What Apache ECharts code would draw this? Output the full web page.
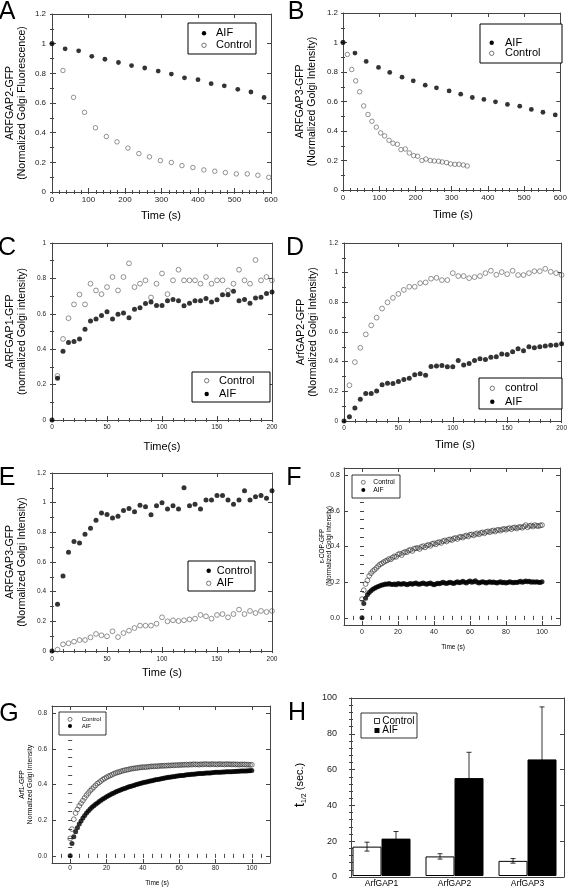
<!DOCTYPE html>
<html><head><meta charset="utf-8">
<script src="https://cdn.jsdelivr.net/npm/echarts@6/dist/echarts.min.js"></script>
<style>html,body{margin:0;padding:0;background:#fff}#c{width:570px;height:888px}</style>
</head><body><div id="c"></div>
<script>
// ---------- DATA ----------
// Panel A (ARFGAP2-GFP decay)
const aifA_t = [0,36,73,109,145,182,218,254,291,327,363,400,436,472,509,545,581];
const aifA_v = [1.0,0.965,0.952,0.915,0.895,0.873,0.852,0.836,0.815,0.795,0.77,0.757,0.73,0.716,0.692,0.674,0.637];
const ctlA_t = [0,30,59,89,119,149,178,208,238,267,297,327,356,386,416,446,475,505,535,564,594];
const ctlA_v = [1.0,0.819,0.638,0.537,0.433,0.374,0.338,0.296,0.259,0.237,0.212,0.199,0.178,0.165,0.149,0.14,0.131,0.122,0.122,0.113,0.099];
// Panel B (ARFGAP3-GFP decay)
const aifB_t = [0,33,64,98,129,163,194,227,258,293,325,357,389,421,454,488,520,552,586];
const aifB_v = [1.0,0.928,0.872,0.831,0.797,0.765,0.74,0.711,0.693,0.672,0.65,0.627,0.614,0.598,0.58,0.568,0.546,0.527,0.509];
const ctlB_t = [0,12,24,35,46,57,69,80,92,104,115,127,138,150,160,172,183,195,206,218,229,241,252,264,274,286,297,309,320,332,343];
const ctlB_v = [1.0,0.919,0.817,0.74,0.666,0.57,0.512,0.466,0.426,0.387,0.367,0.337,0.317,0.31,0.274,0.278,0.251,0.233,0.229,0.2,0.21,0.2,0.197,0.195,0.19,0.186,0.177,0.174,0.174,0.17,0.163];
// Times for C, D, E
const tCDE = [0,5,10,15,20,25,30,35,40,45,50,55,60,65,70,75,80,85,90,95,100,105,110,115,120,125,130,135,140,145,150,155,160,165,170,175,180,185,190,195,200];
const tCDE5 = [5,10,15,20,25,30,35,40,45,50,55,60,65,70,75,80,85,90,95,100,105,110,115,120,125,130,135,140,145,150,155,160,165,170,175,180,185,190,195,200];
// Panel C (ARFGAP1-GFP recovery)
const ctlC = [0.249,0.458,0.575,0.653,0.709,0.653,0.77,0.732,0.711,0.751,0.808,0.732,0.808,0.885,0.751,0.77,0.789,0.692,0.77,0.828,0.711,0.789,0.849,0.789,0.789,0.789,0.77,0.808,0.77,0.789,0.789,0.732,0.77,0.849,0.789,0.77,0.904,0.789,0.808,0.789];
const aifC = [0,0.236,0.389,0.438,0.443,0.458,0.513,0.56,0.57,0.591,0.611,0.57,0.598,0.604,0.577,0.626,0.634,0.658,0.666,0.647,0.647,0.674,0.681,0.674,0.645,0.66,0.674,0.674,0.687,0.666,0.679,0.708,0.708,0.728,0.674,0.681,0.66,0.689,0.694,0.715,0.723];
// Panel D (ArfGAP2-GFP recovery)
const ctlD = [0.241,0.397,0.494,0.584,0.645,0.697,0.758,0.8,0.83,0.857,0.884,0.905,0.905,0.929,0.934,0.959,0.965,0.95,0.95,0.997,0.977,0.977,0.963,0.97,0.977,0.997,1.013,0.986,1.004,0.99,1.013,0.984,0.984,0.997,1.01,1.01,1.026,1.006,0.997,0.984];
const aifD = [0,0.029,0.088,0.147,0.185,0.185,0.203,0.244,0.255,0.253,0.266,0.28,0.289,0.311,0.318,0.309,0.368,0.37,0.374,0.365,0.365,0.408,0.377,0.388,0.408,0.42,0.415,0.429,0.433,0.451,0.449,0.467,0.487,0.474,0.501,0.494,0.501,0.505,0.51,0.512,0.521];
// Panel E (ARFGAP3-GFP recovery)
const ctlE = [0,0.315,0.506,0.665,0.739,0.728,0.787,0.827,0.881,0.93,0.921,0.897,0.908,0.948,0.96,0.939,0.982,0.973,0.919,0.98,1.0,0.957,0.98,0.957,1.101,0.98,0.989,0.957,1.018,1.018,1.049,1.049,1.018,0.989,1.018,1.081,1.018,1.04,1.049,1.029,1.081];
const aifE = [0.009,0.045,0.052,0.063,0.074,0.074,0.092,0.115,0.106,0.099,0.133,0.094,0.121,0.137,0.155,0.171,0.171,0.171,0.184,0.227,0.2,0.207,0.202,0.207,0.213,0.218,0.243,0.234,0.218,0.243,0.249,0.227,0.249,0.279,0.249,0.27,0.256,0.27,0.263,0.27];
// Times for F, G
const tFG = [0,1,2,3,4,5,6,7,8,9,10,11,12,13,14,15,16,17,18,19,20,21,22,23,24,25,26,27,28,29,30,31,32,33,34,35,36,37,38,39,40,41,42,43,44,45,46,47,48,49,50,51,52,53,54,55,56,57,58,59,60,61,62,63,64,65,66,67,68,69,70,71,72,73,74,75,76,77,78,79,80,81,82,83,84,85,86,87,88,89,90,91,92,93,94,95,96,97,98,99,100];
// Panel F (epsilon-COP-GFP)
const ctlF = [0.105,0.155,0.19,0.21,0.235,0.25,0.262,0.27,0.28,0.29,0.3,0.305,0.312,0.318,0.322,0.33,0.328,0.338,0.345,0.342,0.355,0.36,0.352,0.365,0.37,0.368,0.378,0.382,0.375,0.388,0.39,0.392,0.386,0.398,0.402,0.395,0.405,0.41,0.404,0.415,0.418,0.412,0.422,0.425,0.42,0.43,0.434,0.428,0.438,0.44,0.436,0.445,0.448,0.442,0.452,0.455,0.45,0.458,0.462,0.456,0.466,0.468,0.462,0.47,0.474,0.468,0.476,0.479,0.474,0.482,0.485,0.48,0.487,0.49,0.484,0.492,0.494,0.489,0.496,0.499,0.494,0.5,0.503,0.497,0.505,0.507,0.501,0.508,0.51,0.505,0.512,0.52,0.508,0.515,0.518,0.512,0.52,0.516,0.514,0.518,0.52];
const aifF = [0,0.08,0.11,0.13,0.142,0.152,0.16,0.166,0.172,0.176,0.18,0.184,0.186,0.19,0.188,0.192,0.189,0.187,0.19,0.186,0.192,0.19,0.188,0.193,0.19,0.186,0.19,0.193,0.189,0.192,0.195,0.19,0.188,0.192,0.195,0.191,0.188,0.192,0.196,0.19,0.186,0.19,0.194,0.191,0.196,0.2,0.195,0.192,0.197,0.2,0.196,0.193,0.198,0.202,0.197,0.2,0.205,0.2,0.196,0.202,0.206,0.2,0.203,0.208,0.2,0.196,0.2,0.203,0.199,0.196,0.2,0.202,0.198,0.201,0.198,0.196,0.2,0.202,0.197,0.199,0.195,0.198,0.202,0.2,0.197,0.2,0.198,0.201,0.205,0.2,0.203,0.207,0.202,0.205,0.2,0.203,0.199,0.202,0.2,0.198,0.203];
// Panel G (Arf1-GFP)
const ctlG = [0.098,0.15,0.205,0.24,0.26,0.28,0.295,0.31,0.325,0.34,0.352,0.365,0.375,0.385,0.395,0.405,0.412,0.42,0.428,0.434,0.44,0.446,0.45,0.455,0.46,0.464,0.468,0.47,0.474,0.477,0.48,0.482,0.484,0.487,0.489,0.49,0.492,0.493,0.495,0.496,0.497,0.498,0.497,0.5,0.5,0.502,0.501,0.503,0.502,0.504,0.505,0.504,0.506,0.505,0.507,0.506,0.508,0.507,0.509,0.508,0.51,0.509,0.511,0.51,0.512,0.51,0.513,0.511,0.514,0.512,0.513,0.511,0.514,0.512,0.515,0.513,0.514,0.512,0.515,0.513,0.514,0.512,0.515,0.513,0.514,0.512,0.515,0.513,0.514,0.512,0.514,0.512,0.513,0.511,0.513,0.512,0.513,0.511,0.512,0.51,0.511];
const aifG = [0,0.07,0.107,0.135,0.158,0.178,0.196,0.212,0.226,0.24,0.252,0.262,0.272,0.281,0.289,0.297,0.305,0.312,0.319,0.325,0.331,0.337,0.342,0.348,0.353,0.358,0.362,0.367,0.371,0.375,0.378,0.382,0.386,0.389,0.392,0.395,0.398,0.401,0.404,0.407,0.41,0.412,0.414,0.417,0.419,0.421,0.424,0.426,0.428,0.43,0.432,0.434,0.436,0.438,0.44,0.441,0.443,0.444,0.446,0.447,0.449,0.45,0.451,0.452,0.454,0.455,0.456,0.457,0.458,0.459,0.46,0.461,0.462,0.462,0.463,0.464,0.465,0.465,0.466,0.467,0.468,0.468,0.469,0.469,0.47,0.47,0.471,0.471,0.472,0.472,0.473,0.473,0.474,0.474,0.475,0.475,0.476,0.476,0.477,0.477,0.478];
// Panel H (t1/2 bars)
const catsH = ['ArfGAP1','ArfGAP2','ArfGAP3'];
const ctlH = [16.5,11,8.5];
const ctlH_err = [2.5,1.5,1.3];
const aifH = [21,55,65.5];
const aifH_err = [4,14.5,29.5];
// Tick labels
const ticks600 = [0,100,200,300,400,500,600];
const ticks200 = [0,50,100,150,200];
const ticks100 = [0,20,40,60,80,100];
const ticksY12 = [0,0.2,0.4,0.6,0.8,1,1.2];
const ticksY10 = [0,0.2,0.4,0.6,0.8,1];
const ticksY08 = [0,0.2,0.4,0.6,0.8];
const ticksH = [0,20,40,60,80,100];

// ---------- BUILD ----------
const FONT = '"Liberation Sans", Arial, Helvetica, sans-serif';
const AX = '#444';
const grids = [], xAxes = [], yAxes = [], series = [], graphics = [];

function minors(min, max, step){
  const out = [];
  const s = Math.ceil(min/step - 1e-9);
  for (let k = s; k*step <= max + 1e-9; k++) out.push(Math.round(k*step*1e6)/1e6);
  return out;
}
function axisMajor(gi, pos, range, ticks, label){
  const a = {type:'value', gridIndex:gi, position:pos, min:range[0], max:range[1],
    splitLine:{show:false},
    axisLine:{show:true, onZero:false, lineStyle:{color:AX, width:1}},
    axisTick:{show:true, inside:true, length:4, customValues:ticks, lineStyle:{color:AX, width:1}},
    axisLabel:{show:false}};
  if (label) a.axisLabel = Object.assign({show:true, customValues:ticks, color:'#222', fontFamily:FONT}, label);
  return a;
}
function axisMinor(gi, pos, range, ticks){
  return {type:'value', gridIndex:gi, position:pos, min:range[0], max:range[1],
    splitLine:{show:false}, axisLine:{show:false},
    axisTick:{show:true, inside:true, length:2, customValues:ticks, lineStyle:{color:AX, width:1}},
    axisLabel:{show:false}};
}
function addPanel(p){
  const gi = grids.length;
  grids.push({left:p.l, top:p.t, width:p.w, height:p.h});
  const xi = xAxes.length;
  const xl = {fontSize:p.lf, margin:p.lxm};
  const yl = {fontSize:p.lf, margin:p.lym};
  if (p.yfmt) yl.formatter = p.yfmt;
  xAxes.push(axisMajor(gi,'bottom',p.x,p.xt,xl));
  xAxes.push(axisMinor(gi,'bottom',p.x,minors(p.x[0],p.x[1],p.xm)));
  xAxes.push(axisMajor(gi,'top',p.x,p.xt,null));
  xAxes.push(axisMinor(gi,'top',p.x,minors(p.x[0],p.x[1],p.xm)));
  const yi = yAxes.length;
  yAxes.push(axisMajor(gi,'left',p.y,p.yt,yl));
  yAxes.push(axisMinor(gi,'left',p.y,minors(p.y[0],p.y[1],p.ym)));
  yAxes.push(axisMajor(gi,'right',p.y,p.yt,null));
  yAxes.push(axisMinor(gi,'right',p.y,minors(p.y[0],p.y[1],p.ym)));
  return {xi, yi};
}
function pairs(t, v){ return v.map((y,i)=>[t[i], y]); }
function filled(ax, t, v, size){
  series.push({type:'scatter', xAxisIndex:ax.xi, yAxisIndex:ax.yi, data:pairs(t,v), symbol:'circle',
    symbolSize:size, itemStyle:{color:'#000'}, silent:true, z:3});
}
function open(ax, t, v, size, col){
  series.push({type:'scatter', xAxisIndex:ax.xi, yAxisIndex:ax.yi, data:pairs(t,v), symbol:'circle',
    symbolSize:size, itemStyle:{color:'rgba(0,0,0,0)', borderColor:col||'#555', borderWidth:0.8}, silent:true, z:2});
}
function txt(x, y, text, size, o){
  o = o || {};
  graphics.push({type:'text', x:x, y:y, rotation:o.rot||0, silent:true, z:10,
    style:{text:text, fontSize:size, fontFamily:FONT, fill:'#000', fontWeight:o.bold?'bold':'normal',
      align:o.align||'center', verticalAlign:o.va||'middle', lineHeight:o.lh||size*1.15, rich:o.rich}});
}
function legend(box, items, sx, tx, fs, r, lw){
  graphics.push({type:'rect', shape:{x:box[0], y:box[1], width:box[2]-box[0], height:box[3]-box[1]},
    style:{fill:'#fff', stroke:'#000', lineWidth:lw}, silent:true, z:9});
  items.forEach(it=>{
    if (it.k==='f') graphics.push({type:'circle', shape:{cx:sx, cy:it.y, r:r}, style:{fill:'#000'}, silent:true, z:10});
    else if (it.k==='o') graphics.push({type:'circle', shape:{cx:sx, cy:it.y, r:r}, style:{fill:'none', stroke:'#555', lineWidth:0.8}, silent:true, z:10});
    else if (it.k==='sq') graphics.push({type:'rect', shape:{x:sx-r, y:it.y-r, width:2*r, height:2*r}, style:{fill:'#fff', stroke:'#000', lineWidth:0.8}, silent:true, z:10});
    else if (it.k==='sf') graphics.push({type:'rect', shape:{x:sx-r, y:it.y-r, width:2*r, height:2*r}, style:{fill:'#000'}, silent:true, z:10});
    txt(tx, it.y, it.label, fs, {align:'left'});
  });
}
const f1 = v => v.toFixed(1);
const R90 = Math.PI/2;

// Panel A
const axA = addPanel({l:52,t:14,w:219,h:178, x:[0,600], y:[0,1.2], xt:ticks600, yt:ticksY12, xm:20, ym:0.1, lf:8, lxm:4, lym:6});
open(axA, ctlA_t, ctlA_v, 4.5);
filled(axA, aifA_t, aifA_v, 4.8);
legend([188,23,256,54], [{y:33.3,k:'f',label:'AIF'},{y:45.3,k:'o',label:'Control'}], 204, 216, 11, 2.2, 1);
txt(7, 12, 'A', 25, {align:'center'});
txt(16, 103, 'ARFGAP2-GFP\n(Normalized Golgi Fluorescence)', 10.5, {rot:R90, lh:12});
txt(161, 216, 'Time (s)', 11);

// Panel B
const axB = addPanel({l:343,t:13,w:220,h:177, x:[0,600], y:[0,1.2], xt:ticks600, yt:ticksY12, xm:20, ym:0.1, lf:8, lxm:4, lym:5});
open(axB, ctlB_t, ctlB_v, 4.5);
filled(axB, aifB_t, aifB_v, 4.8);
legend([480,24,562,63], [{y:42.7,k:'f',label:'AIF'},{y:53.3,k:'o',label:'Control'}], 491.7, 505, 11, 2.2, 1);
txt(296, 12, 'B', 25);
txt(306, 101.5, 'ARFGAP3-GFP\n(Normalized Golgi Intensity)', 10.5, {rot:R90, lh:12});
txt(453, 215, 'Time (s)', 11);

// Panel C
const axC = addPanel({l:52,t:243,w:220,h:177, x:[0,200], y:[0,1], xt:ticks200, yt:ticksY10, xm:10, ym:0.1, lf:6.5, lxm:4, lym:6});
open(axC, tCDE5, ctlC, 4.8);
filled(axC, tCDE, aifC, 5);
legend([192,372,270,402], [{y:380.7,k:'o',label:'Control'},{y:394,k:'f',label:'AIF'}], 206.7, 219, 11, 2.2, 1);
txt(7, 248, 'C', 25);
txt(16, 331.5, 'ARFGAP1-GFP\n(normalized Golgi intensity)', 10.5, {rot:R90, lh:12});
txt(162, 447, 'Time(s)', 11);

// Panel D
const axD = addPanel({l:344,t:243,w:220,h:178, x:[0,200], y:[0,1.2], xt:ticks200, yt:ticksY12, xm:10, ym:0.1, lf:6.5, lxm:4, lym:6});
open(axD, tCDE5, ctlD, 4.8);
filled(axD, tCDE, aifD, 5);
legend([479,378,562,409], [{y:388.3,k:'o',label:'control'},{y:401.7,k:'f',label:'AIF'}], 492.3, 505, 11, 2.2, 1);
txt(295, 248, 'D', 25);
txt(307, 332, 'ArfGAP2-GFP\n(Normalized Golgi Intensity)', 10.5, {rot:R90, lh:12});
txt(455, 445, 'Time (s)', 11);

// Panel E
const axE = addPanel({l:52,t:473,w:220,h:178, x:[0,200], y:[0,1.2], xt:ticks200, yt:ticksY12, xm:10, ym:0.1, lf:6.5, lxm:5, lym:6});
open(axE, tCDE5, aifE, 4.8);
filled(axE, tCDE, ctlE, 5);
legend([188,561,255,591], [{y:570.7,k:'f',label:'Control'},{y:583.3,k:'o',label:'AIF'}], 208.7, 216.7, 11, 2.2, 1);
txt(7, 478, 'E', 25);
txt(16, 562, 'ARFGAP3-GFP\n(Normalized Golgi Intensity)', 10.5, {rot:R90, lh:12});
txt(162, 673, 'Time (s)', 11);

// Panel F
const axF = addPanel({l:344,t:468,w:216,h:157, x:[-10,110], y:[-0.04,0.84], xt:ticks100, yt:ticksY08, xm:5, ym:0.05, lf:7, lxm:4, lym:4, yfmt:f1});
open(axF, tFG, ctlF, 4.8, '#333');
filled(axF, tFG, aifF, 5);
legend([352,475,400,498], [{y:482.3,k:'o',label:'Control'},{y:490,k:'f',label:'AIF'}], 363.3, 373.3, 6.7, 2, 0.8);
txt(294, 478, 'F', 25);
txt(326, 546, '\u03b5-COP-GFP\n(Normalized Golgi intensity)', 6.5, {rot:R90, lh:7});
txt(453, 647, 'Time (s)', 6.5);

// Panel G
const axG = addPanel({l:52,t:706,w:218,h:157, x:[-10,110], y:[-0.04,0.84], xt:ticks100, yt:ticksY08, xm:5, ym:0.05, lf:6.5, lxm:2, lym:5, yfmt:f1});
open(axG, tFG, ctlG, 4.8, '#333');
filled(axG, tFG, aifG, 5);
legend([59,712,106,735], [{y:719.3,k:'o',label:'Control'},{y:726,k:'f',label:'AIF'}], 70, 81.7, 6, 2, 0.8);
txt(9, 714, 'G', 25);
txt(26, 784.5, 'Arf1-GFP\nNormalized Golgi Intensity', 6.8, {rot:R90, lh:8.5});
txt(157, 883, 'Time (s)', 6.5);

// Panel H: frame grid
(function(){
  const gi = grids.length;
  grids.push({left:351, top:698, width:213, height:179});
  const frameX = pos => ({type:'value', gridIndex:gi, position:pos, min:0, max:1, splitLine:{show:false},
    axisLine:{show:true, onZero:false, lineStyle:{color:AX, width:1}}, axisTick:{show:false}, axisLabel:{show:false}});
  xAxes.push(frameX('bottom')); xAxes.push(frameX('top'));
  yAxes.push(axisMajor(gi,'left',[0,100],ticksH,{fontSize:9, margin:14}));
  yAxes.push(axisMinor(gi,'left',[0,100],minors(0,100,4)));
  yAxes.push(axisMajor(gi,'right',[0,100],ticksH,null));
  yAxes.push(axisMinor(gi,'right',[0,100],minors(0,100,4)));
  // bar grid
  const gb = grids.length;
  grids.push({left:345, top:698, width:219, height:179});
  const bx = xAxes.length;
  xAxes.push({type:'category', gridIndex:gb, data:catsH, position:'bottom', axisLine:{show:false}, axisTick:{show:false},
    axisLabel:{fontSize:8.5, fontFamily:FONT, color:'#000', margin:3}, splitLine:{show:false}});
  const by = yAxes.length;
  yAxes.push({type:'value', gridIndex:gb, min:0, max:100, show:false});
  series.push({type:'bar', xAxisIndex:bx, yAxisIndex:by, data:ctlH, barWidth:29, barGap:'0%',
    itemStyle:{color:'#fff', borderColor:'#000', borderWidth:1}, silent:true, z:2});
  series.push({type:'bar', xAxisIndex:bx, yAxisIndex:by, data:aifH, barWidth:29, barGap:'0%',
    itemStyle:{color:'#000', borderColor:'#000', borderWidth:1}, silent:true, z:2});
  const errData = [];
  ctlH.forEach((v,i)=>errData.push([i, v, ctlH_err[i], -1]));
  aifH.forEach((v,i)=>errData.push([i, v, aifH_err[i], 1]));
  series.push({type:'custom', xAxisIndex:bx, yAxisIndex:by, data:errData, silent:true, z:5,
    renderItem:function(params, api){
      const i = api.value(0), v = api.value(1), e = api.value(2), s = api.value(3);
      const c = api.coord([i, v]);
      const hi = api.coord([i, v+e]), lo = api.coord([i, v-e]);
      const x = c[0] + s*14.5;
      const st = {stroke:'#000', lineWidth:0.8};
      return {type:'group', children:[
        {type:'line', shape:{x1:x, y1:hi[1], x2:x, y2:lo[1]}, style:st},
        {type:'line', shape:{x1:x-2.5, y1:hi[1], x2:x+2.5, y2:hi[1]}, style:st},
        {type:'line', shape:{x1:x-2.5, y1:lo[1], x2:x+2.5, y2:lo[1]}, style:st}
      ]};
    }});
})();
legend([361,713,417,738], [{y:721,k:'sq',label:'Control'},{y:730.5,k:'sf',label:'AIF'}], 377, 382.3, 10, 2.5, 0.8);
txt(297, 713, 'H', 25);
txt(300, 785, '{t|t}{s|1/2} (sec.)', 11, {rot:R90, rich:{t:{fontSize:15, fontFamily:FONT, fill:'#000'}, s:{fontSize:7, fontFamily:FONT, fill:'#000', padding:[8,0,0,0]}}});

const chart = echarts.init(document.getElementById('c'), null, {renderer:'canvas', width:570, height:888});
chart.setOption({
  animation:false,
  backgroundColor:'#fff',
  grid:grids, xAxis:xAxes, yAxis:yAxes, series:series, graphic:graphics
});
</script>
</body></html>
